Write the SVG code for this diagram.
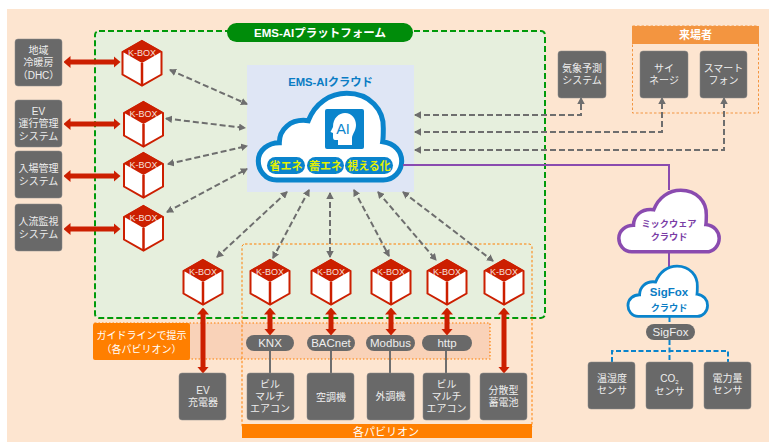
<svg xmlns="http://www.w3.org/2000/svg" xmlns:xlink="http://www.w3.org/1999/xlink" width="769" height="442" viewBox="0 0 769 442">
<style>
text{font-family:"Liberation Sans","Noto Sans CJK JP",sans-serif;text-anchor:middle}
.n{fill:#696969;stroke:#8a8a8a;stroke-width:.5}
.t{fill:#eee;font-size:10px}
.p{fill:#696969}
.pt{fill:#eee;font-size:11.5px}
.kt{fill:#f6e0dc;font-size:9px}
.r{fill:none;stroke:#cc1f00;stroke-width:5;marker-start:url(#ra);marker-end:url(#ra)}
.g{fill:none;stroke:#6e6e6e;stroke-width:2;stroke-dasharray:6 3;marker-start:url(#ga);marker-end:url(#ga)}
.l{fill:none;stroke:#6e6e6e;stroke-width:2}
.b{fill:none;stroke:#0a84cc;stroke-width:2;stroke-dasharray:5 2.5}
.v{fill:none;stroke:#8a4baf;stroke-width:2}
.y{fill:#e4f000;font-size:11px;font-weight:bold}
.ep{fill:#0a84cc}
</style>
<defs>
<marker id="ra" markerUnits="userSpaceOnUse" viewBox="0 0 7 12" refX="0.5" refY="6" markerWidth="7" markerHeight="12" orient="auto-start-reverse"><path d="M0 0L7 6L0 12Z" fill="#cc1f00"/></marker>
<marker id="ga" markerUnits="userSpaceOnUse" viewBox="0 0 7 7.500" refX="6" refY="3.750" markerWidth="7" markerHeight="7.500" orient="auto-start-reverse"><path d="M0 0L7 3.750L0 7.500Z" fill="#6e6e6e"/></marker>
<g id="kbox">
<path d="M0 1L19.500 12V34.500L0 45.500L-19.500 34.500V12Z" fill="#fff" stroke="#cc1f00" stroke-width="2"/>
<path d="M0 0L20 11.500L0 23L-20 11.500Z" fill="#cc1f00"/>
<path d="M0 23V46" stroke="#cc1f00" stroke-width="2.500"/>
<text class="kt" x="0" y="15.500">K-BOX</text>
</g>
<path id="cloud" d="M276.700 180C265 180 258.300 170 258.300 161C258.300 150 268.300 142.700 279.300 142.700C279.300 130 290 118.300 308.300 120.700C315 103.300 330 93.300 346.700 93.300C370 93.300 384 110 383.300 128.300C383.300 133 383.300 138 382.700 141.700C395 143.300 401.700 151.700 401.700 161C401.700 171.700 393.300 180 383.300 180Z" fill="#fff" stroke-width="5"/>
</defs>

<rect x="7" y="9" width="762" height="433" fill="#fde5d0"/>
<rect id="platform-panel" x="95" y="31" width="450" height="287" rx="4" fill="#e6efdd" stroke="#009a0a" stroke-width="2" stroke-dasharray="6 3"/>
<g id="guideline-band">
<rect x="95" y="323" width="395" height="36" fill="#f9d2b8" stroke="#ff7f00" stroke-width="1.200" stroke-dasharray="1.500 2"/>
<rect x="93" y="323" width="97" height="37" rx="2" fill="#ff7f00"/>
<text x="141.500" y="339" fill="#fff" font-size="10">ガイドラインで提示</text>
<text x="141.500" y="352.500" fill="#fff" font-size="10">（各パビリオン）</text>
</g>
<g id="pavilion-frame">
<rect x="242" y="244" width="290" height="185" rx="3" fill="none" stroke="#ff7f00" stroke-width="1" stroke-dasharray="2.500 2"/>
<rect x="242" y="424" width="290" height="14" fill="#ff7f00"/>
<text x="386" y="436" fill="#fff" font-size="11">各パビリオン</text>
</g>
<g id="platform-title">
<rect x="227" y="23" width="186" height="19" rx="9.500" fill="#008c0a"/>
<text x="320" y="37" fill="#fff" font-size="11.500" font-weight="bold">EMS-AIプラットフォーム</text>
</g>
<g id="visitor-frame">
<rect x="632.500" y="26" width="126" height="87" fill="none" stroke="#f39540" stroke-width="1" stroke-dasharray="2.500 2"/>
<rect x="632" y="26" width="127" height="18" fill="#f39540"/>
<text x="695.500" y="39" fill="#fff" font-size="11" font-weight="bold">来場者</text>
</g>

<g id="ems-cloud">
<rect x="247" y="65" width="167" height="127" fill="#dfe6f5"/>
<text x="330.500" y="86" fill="#0a7cc4" font-size="11.300" font-weight="bold">EMS-AIクラウド</text>
<use xlink:href="#cloud" href="#cloud" stroke="#0a84cc"/>
<rect x="325" y="109" width="39" height="40" rx="2" class="ep"/>
<path d="M338 145V140H335Q333 140 333 137V133L330.500 132L333 127C333 118 339 113 345 113C352 113 356 119 356 125C356 131 352 134 352 138V145Z" fill="#fff"/>
<text x="343" y="133.500" class="ep" font-size="14.500">AI</text>
<rect x="267" y="157" width="38" height="17" rx="8.500" class="ep"/>
<rect x="307" y="157" width="37" height="17" rx="8.500" class="ep"/>
<rect x="345" y="157" width="48" height="17" rx="8.500" class="ep"/>
<text x="286" y="170" class="y">省エネ</text>
<text x="325.500" y="170" class="y">蓄エネ</text>
<text x="369" y="170" class="y">視える化</text>
</g>

<g id="connectors">
<path class="v" d="M403 165H669V190M669 250V267"/>
<path class="r" d="M70 62H114"/>
<path class="r" d="M70 124H114"/>
<path class="r" d="M70 176H114"/>
<path class="r" d="M70 229H114"/>
<path class="r" d="M203 314V367"/>
<path class="r" d="M270 314V329"/>
<path class="r" d="M331 314V329"/>
<path class="r" d="M391 314V329"/>
<path class="r" d="M447 314V329"/>
<path class="r" d="M504 314V367"/>
<path class="l" d="M270 351V373M331 351V373M390 351V373M446 351V373"/>
<path class="g" d="M170 70L247 104"/>
<path class="g" d="M166 118.500L245 128"/>
<path class="g" d="M168 164L247 146"/>
<path class="g" d="M167 212L247 169"/>
<path class="g" d="M287 192L217 257"/>
<path class="g" d="M309 190L273 258"/>
<path class="g" d="M330 193V257"/>
<path class="g" d="M354 190L389 256"/>
<path class="g" d="M378 192L436 260"/>
<path class="g" d="M403 192L493 261"/>
<path class="g" d="M415 115H581V98"/>
<path class="g" d="M415 132H662V98"/>
<path class="g" d="M415 150H724V98"/>
<path class="b" d="M669.500 317V324M669.500 340V362M612 362V351H728V362"/>
</g>

<g id="mic-cloud">
<use xlink:href="#cloud" href="#cloud" stroke="#8a4baf" transform="translate(438 124) scale(.7 .71)"/>
<text x="669" y="227" fill="#7a3ca5" font-size="9.200" font-weight="bold">ミックウェア</text>
<text x="669" y="240" fill="#7a3ca5" font-size="9.200" font-weight="bold">クラウド</text>
</g>
<g id="sigfox-cloud">
<use xlink:href="#cloud" href="#cloud" stroke="#0a84cc" transform="translate(484.600 212) scale(.555 .58)"/>
<text x="669" y="296" fill="#0a7cc4" font-size="11.500" font-weight="bold">SigFox</text>
<text x="669" y="310.500" fill="#0a7cc4" font-size="9.200" font-weight="bold">クラウド</text>
</g>

<use id="kbox-1" xlink:href="#kbox" href="#kbox" x="142" y="40"/>
<use id="kbox-2" xlink:href="#kbox" href="#kbox" x="143.500" y="101"/>
<use id="kbox-3" xlink:href="#kbox" href="#kbox" x="143.500" y="152"/>
<use id="kbox-4" xlink:href="#kbox" href="#kbox" x="143.500" y="205"/>
<use id="kbox-5" xlink:href="#kbox" href="#kbox" x="203" y="259"/>
<use id="kbox-6" xlink:href="#kbox" href="#kbox" x="270" y="259"/>
<use id="kbox-7" xlink:href="#kbox" href="#kbox" x="331" y="259"/>
<use id="kbox-8" xlink:href="#kbox" href="#kbox" x="391" y="259"/>
<use id="kbox-9" xlink:href="#kbox" href="#kbox" x="447" y="259"/>
<use id="kbox-10" xlink:href="#kbox" href="#kbox" x="504" y="259"/>

<g id="n-dhc"><rect class="n" x="15" y="39" width="47" height="47" rx="3"/><text class="t" x="38.500" y="54">地域</text><text class="t" x="38.500" y="66">冷暖房</text><text class="t" x="38.500" y="79">（DHC）</text></g>
<g id="n-ev"><rect class="n" x="15" y="100" width="47" height="47" rx="3"/><text class="t" x="38.500" y="115">EV</text><text class="t" x="38.500" y="127">運行管理</text><text class="t" x="38.500" y="140">システム</text></g>
<g id="n-entry"><rect class="n" x="15" y="151" width="47" height="47" rx="3"/><text class="t" x="38.500" y="172">入場管理</text><text class="t" x="38.500" y="185">システム</text></g>
<g id="n-flow"><rect class="n" x="15" y="204" width="47" height="47" rx="3"/><text class="t" x="38.500" y="225">人流監視</text><text class="t" x="38.500" y="238">システム</text></g>
<g id="n-weather"><rect class="n" x="558" y="51" width="48" height="47" rx="3"/><text class="t" x="582" y="72">気象予測</text><text class="t" x="582" y="84">システム</text></g>
<g id="n-signage"><rect class="n" x="640" y="51" width="48" height="47" rx="3"/><text class="t" x="664" y="72">サイ</text><text class="t" x="664" y="84">ネージ</text></g>
<g id="n-phone"><rect class="n" x="700" y="51" width="47" height="47" rx="3"/><text class="t" x="723.500" y="72">スマート</text><text class="t" x="723.500" y="84">フォン</text></g>
<g id="n-charger"><rect class="n" x="179" y="373" width="47" height="47" rx="3"/><text class="t" x="203" y="394">EV</text><text class="t" x="203" y="406">充電器</text></g>
<g id="n-ac1"><rect class="n" x="247" y="373" width="47" height="47" rx="3"/><text class="t" x="270" y="388">ビル</text><text class="t" x="270" y="400">マルチ</text><text class="t" x="270" y="412">エアコン</text></g>
<g id="n-ac2"><rect class="n" x="307" y="373" width="47" height="47" rx="3"/><text class="t" x="331" y="401">空調機</text></g>
<g id="n-oa"><rect class="n" x="367" y="373" width="47" height="47" rx="3"/><text class="t" x="390.500" y="400">外調機</text></g>
<g id="n-ac3"><rect class="n" x="423" y="373" width="47" height="47" rx="3"/><text class="t" x="446.500" y="388">ビル</text><text class="t" x="446.500" y="400">マルチ</text><text class="t" x="446.500" y="412">エアコン</text></g>
<g id="n-battery"><rect class="n" x="480" y="373" width="47" height="47" rx="3"/><text class="t" x="503.500" y="394">分散型</text><text class="t" x="503.500" y="406">蓄電池</text></g>
<g id="n-temp"><rect class="n" x="588" y="362" width="47" height="47" rx="3"/><text class="t" x="612" y="382">温湿度</text><text class="t" x="612" y="394">センサ</text></g>
<g id="n-co2"><rect class="n" x="646" y="362" width="47" height="47" rx="3"/><text class="t" x="669.500" y="382">CO<tspan font-size="6" dy="2">2</tspan></text><text class="t" x="669.500" y="395">センサ</text></g>
<g id="n-power"><rect class="n" x="704" y="362" width="47" height="47" rx="3"/><text class="t" x="727.500" y="382">電力量</text><text class="t" x="727.500" y="394">センサ</text></g>

<g id="p-knx"><rect class="p" x="246" y="335" width="48" height="16" rx="8"/><text class="pt" x="270" y="347">KNX</text></g>
<g id="p-bacnet"><rect class="p" x="307" y="335" width="48" height="16" rx="8"/><text class="pt" x="331" y="347">BACnet</text></g>
<g id="p-modbus"><rect class="p" x="366" y="335" width="49" height="16" rx="8"/><text class="pt" x="390.500" y="347">Modbus</text></g>
<g id="p-http"><rect class="p" x="422" y="335" width="50" height="16" rx="8"/><text class="pt" x="447" y="347">http</text></g>
<g id="p-sigfox"><rect class="p" x="646" y="324" width="49" height="16" rx="8"/><text class="pt" x="670.500" y="336">SigFox</text></g>
</svg>
